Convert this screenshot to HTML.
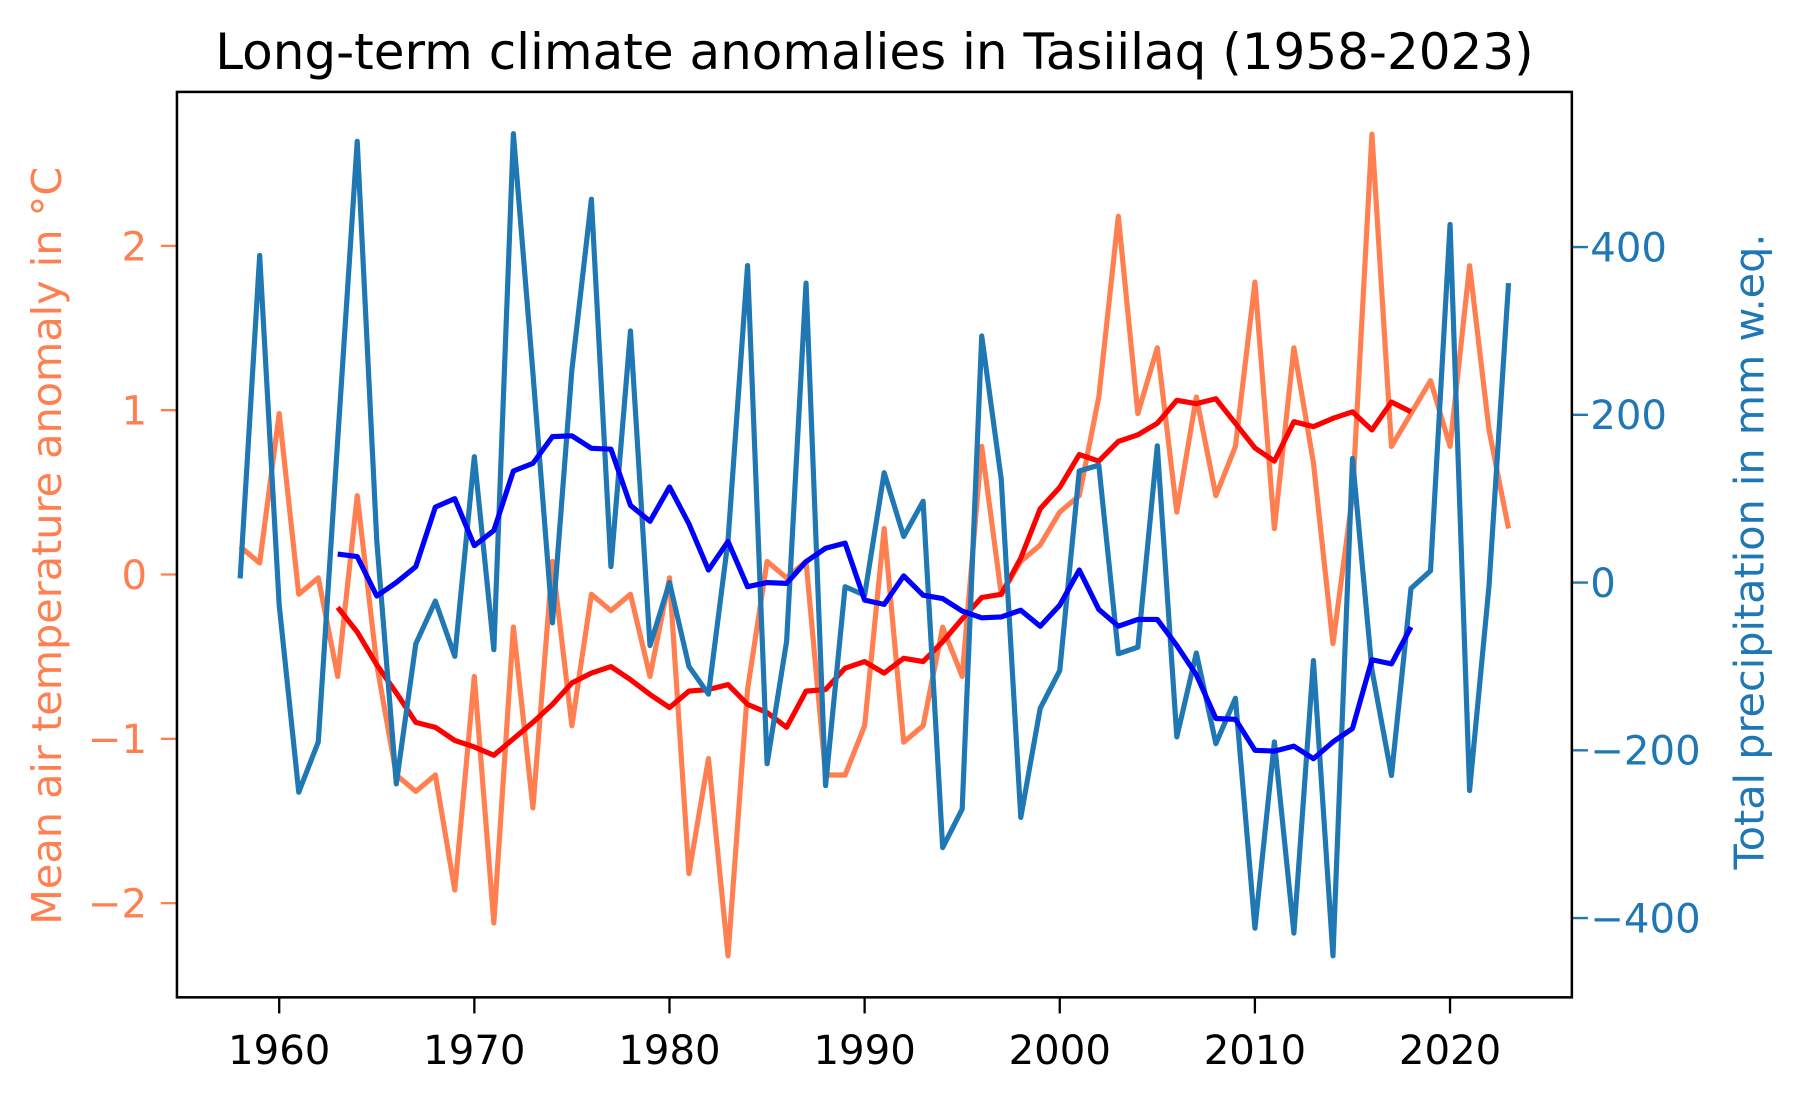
<!DOCTYPE html>
<html><head><meta charset="utf-8"><style>
html,body{margin:0;padding:0;background:#fff;}
svg{display:block;font-family:"DejaVu Sans","Liberation Sans",sans-serif;}
</style></head><body>
<svg id="chart" width="1802" height="1098" viewBox="0 0 1568.3 955.6" xmlns="http://www.w3.org/2000/svg">
<rect width="1568.3" height="955.6" fill="#fff"/>
<text x="761" y="60" font-size="43.5" text-anchor="middle" fill="#000">Long-term climate anomalies in Tasiilaq (1958-2023)</text>
<g id="plot"></g>
<rect x="154" y="80" width="1214" height="788" fill="none" stroke="#000" stroke-width="2.2"/>
<text transform="translate(53,475) rotate(-90)" font-size="36" text-anchor="middle" fill="#ff7f50">Mean air temperature anomaly in °C</text>
<text transform="translate(1535,480) rotate(-90)" font-size="36" text-anchor="middle" fill="#1f77b4">Total precipitation in mm w.eq.</text>
</svg>
<script>
const years = [];
for (let y = 1958; y <= 2023; y++) years.push(y);
const tempAnomaly = [0.17,0.07,0.98,-0.12,-0.02,-0.62,0.48,-0.55,-1.22,-1.32,-1.22,-1.92,-0.62,-2.12,-0.32,-1.42,0.08,-0.92,-0.12,-0.22,-0.12,-0.62,-0.02,-1.82,-1.12,-2.32,-0.7,0.08,-0.02,0.08,-1.22,-1.22,-0.92,0.28,-1.02,-0.92,-0.32,-0.62,0.78,-0.12,0.08,0.18,0.38,0.48,1.08,2.18,0.98,1.38,0.38,1.08,0.48,0.78,1.78,0.28,1.38,0.68,-0.42,0.48,2.68,0.78,0.98,1.18,0.78,1.88,0.88,0.28];
const precip = [5,390,-27,-250,-190,170,526,50,-240,-73,-22,-88,150,-80,535,250,-48,253,457,19,300,-75,0,-100,-133,50,378,-216,-70,357,-242,-5,-15,131,55,97,-316,-270,294,123,-280,-150,-105,133,140,-85,-77,163,-184,-84,-192,-138,-412,-190,-418,-93,-445,148,-104,-230,-7,14,427,-248,-4,357];
const meanYears = [];
for (let y = 1963; y <= 2018; y++) meanYears.push(y);
const tempMean = [-0.2,-0.35,-0.55,-0.72,-0.9,-0.93,-1.01,-1.05,-1.1,-1.0,-0.9,-0.79,-0.66,-0.6,-0.56,-0.64,-0.73,-0.81,-0.71,-0.7,-0.67,-0.79,-0.84,-0.93,-0.71,-0.7,-0.57,-0.53,-0.6,-0.51,-0.53,-0.41,-0.27,-0.14,-0.12,0.1,0.4,0.53,0.73,0.69,0.81,0.85,0.92,1.06,1.04,1.07,0.92,0.77,0.69,0.93,0.9,0.95,0.99,0.88,1.05,0.99];
const precipMean = [34,31,-16,0,19,90,100,44,62,133,142,174,175,160,159,92,73,114,70,15,49,-5,0,-1,25,41,47,-21,-26,8,-15,-19,-34,-42,-41,-33,-52,-27,15,-32,-52,-44,-44,-75,-110,-162,-163,-200,-201,-195,-210,-190,-174,-92,-97,-53];
const xTicks = [1960,1970,1980,1990,2000,2010,2020];
const leftTicks = [-2,-1,0,1,2];
const rightTicks = [-400,-200,0,200,400];

const X = y => 243 + (y - 1960) * 16.983;
const YL = v => 500 - v * 143;
const YR = v => 507 - v * 0.73;
const NS = "http://www.w3.org/2000/svg";
const g = document.getElementById('plot');
function mk(tag, attrs) { const e = document.createElementNS(NS, tag); for (const k in attrs) e.setAttribute(k, attrs[k]); g.appendChild(e); return e; }
function line(xs, vs, yf, color, w) {
  return mk('polyline', {points: xs.map((x,i)=>X(x).toFixed(1)+','+yf(vs[i]).toFixed(1)).join(' '), fill:'none', stroke:color, 'stroke-width':w, 'stroke-linejoin':'round'});
}
let e;
e = line(years, tempAnomaly, YL, '#ff7f50', 4.5);


e = line(meanYears, tempMean, YL, '#ff0000', 4.5);


e = line(years, precip, YR, '#1f77b4', 4.5);


e = line(meanYears, precipMean, YR, '#0000ff', 4.5);



xTicks.forEach(t => {
  const x = X(t);
  e = mk('line', {x1:x, x2:x, y1:868, y2:882, stroke:'#000', 'stroke-width':2});
  
  
  e = mk('text', {x:x, y:926, 'font-size':35, 'text-anchor':'middle', fill:'#000'});
  e.textContent = t;
  
  
});
leftTicks.forEach(t => {
  const y = YL(t);
  e = mk('line', {x1:140, x2:154, y1:y, y2:y, stroke:'#ff7f50', 'stroke-width':2});
  
  
  e = mk('text', {x:128, y:y+12.5, 'font-size':35, 'text-anchor':'end', fill:'#ff7f50'});
  e.textContent = t < 0 ? '\u2212' + Math.abs(t) : String(t);
  
  
});
rightTicks.forEach(t => {
  const y = YR(t);
  e = mk('line', {x1:1368, x2:1382, y1:y, y2:y, stroke:'#1f77b4', 'stroke-width':2});
  
  
  e = mk('text', {x:1384, y:y+12.5, 'font-size':35, 'text-anchor':'start', fill:'#1f77b4'});
  e.textContent = t < 0 ? '\u2212' + Math.abs(t) : String(t);
  
  
});
</script>
</body></html>
